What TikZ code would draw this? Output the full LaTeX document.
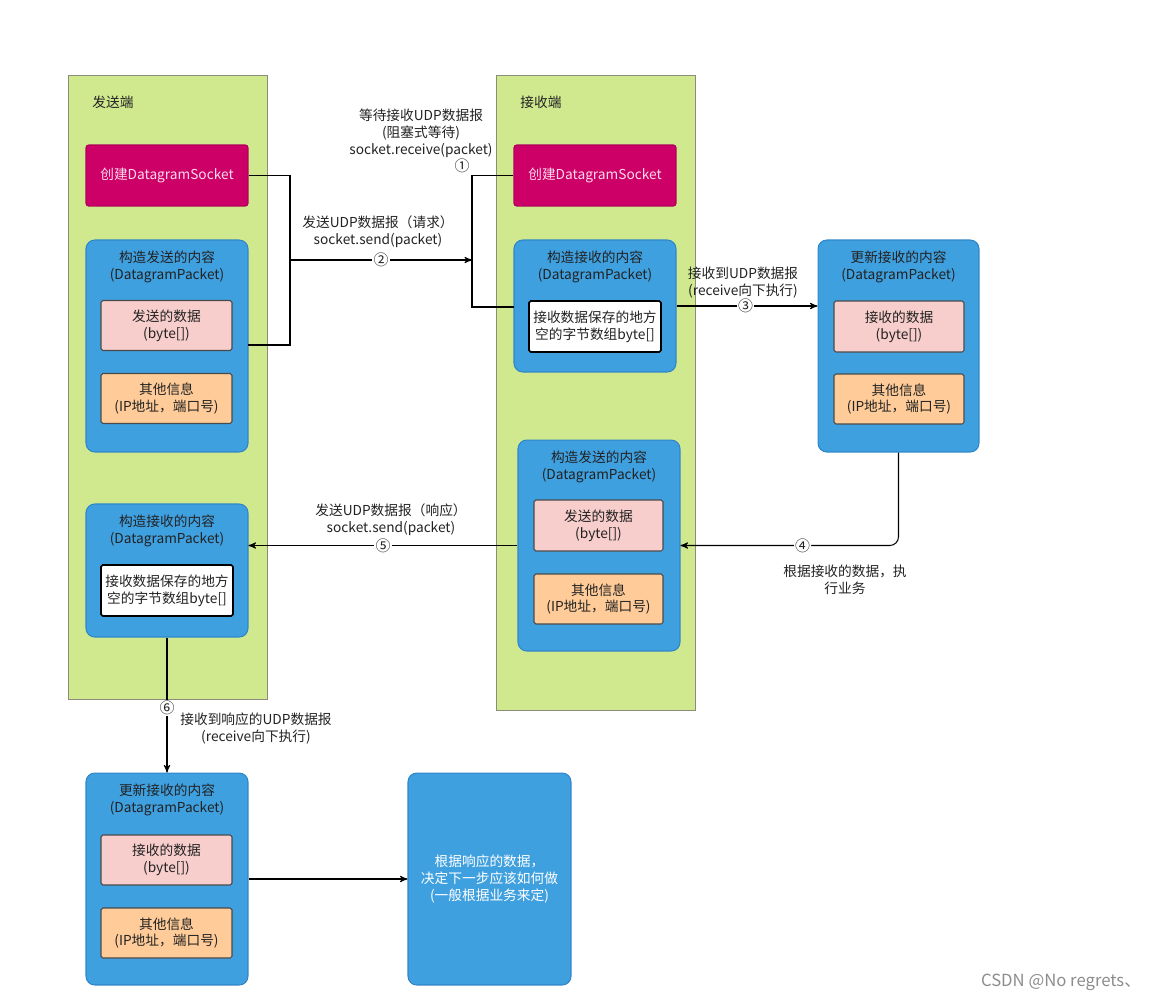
\documentclass[tikz,border=0pt]{standalone}
\usepackage{fontspec}
\setmainfont{Noto Sans CJK SC}
\usetikzlibrary{arrows,positioning}

\definecolor{lanefill}{HTML}{D0E98F}
\definecolor{lanedraw}{HTML}{8C8C7A}
\definecolor{sockfill}{HTML}{CC0066}
\definecolor{sockdraw}{HTML}{B0005A}
\definecolor{socktext}{HTML}{FFD9EC}
\definecolor{pktfill}{HTML}{3FA0E0}
\definecolor{pktdraw}{HTML}{2F86C8}
\definecolor{datafill}{HTML}{F8CECC}
\definecolor{infofill}{HTML}{FFCC99}
\definecolor{boxdraw}{HTML}{4A4A4A}
\definecolor{inktext}{HTML}{222222}

\begin{document}
\begin{tikzpicture}[x=0.02cm,y=-0.02cm,->,>=stealth',line width=0.6pt,
    font=\fontsize{7.8}{9.6}\selectfont,text=inktext,
    lane/.style={draw=lanedraw,fill=lanefill,line width=0.5pt,minimum width=3.98cm},
    sock/.style={draw=sockdraw,fill=sockfill,text=socktext,rounded corners=1.5pt,
      minimum width=3.24cm,minimum height=1.22cm},
    pkt/.style={draw=pktdraw,fill=pktfill,rounded corners=5pt,minimum width=3.24cm},
    data/.style={draw=boxdraw,fill=datafill,rounded corners=1pt,align=center,
      minimum width=2.62cm,minimum height=1cm},
    info/.style={data,fill=infofill},
    buffer/.style={draw=black,fill=white,line width=0.9pt,rounded corners=1pt,align=center,
      minimum width=2.64cm,minimum height=1.02cm,inner sep=1pt},
    title/.style={align=center},
    note/.style={align=center},
    num/.style={fill=white,inner sep=0.6pt,font=\fontsize{8.5}{9}\selectfont}]

      \useasboundingbox (0,0) rectangle (1152,1001);

      % the two sides
      \node[lane,minimum height=12.48cm] (sender) at (167.5,387) {};
      \node[lane,minimum height=12.7cm] (receiver) at (595.5,392.5) {};
      \node (sendertitle) at (113,102) {发送端};
      \node (receivertitle) at (541,102) {接收端};

      % sender, request
      \node[sock] (sendsocket) at (167,175.5) {创建DatagramSocket};
      \node[pkt,minimum height=4.24cm] (sendpacket) at (167,346) {};
      \node[title] (sendpackettitle) at (167,266.5) {构造发送的内容\\(DatagramPacket)};
      \node[data] (senddata) at (166.5,325.5) {发送的数据\\(byte[])};
      \node[info] (sendinfo) at (166.5,398.5) {其他信息\\(IP地址，端口号)};

      % receiver, request
      \node[sock] (recvsocket) at (595,175.5) {创建DatagramSocket};
      \node[pkt,minimum height=2.64cm] (recvpacket) at (595,306) {};
      \node[title] (recvpackettitle) at (595,266.5) {构造接收的内容\\(DatagramPacket)};
      \node[buffer] (recvbuffer) at (595,326.5) {接收数据保存的地方\\空的字节数组byte[]};

      \node[pkt,minimum width=3.22cm,minimum height=4.24cm] (updpacket) at (898.5,346) {};
      \node[title] (updpackettitle) at (898.5,266.5) {更新接收的内容\\(DatagramPacket)};
      \node[data,minimum width=2.6cm,minimum height=1.02cm] (upddata) at (899,326.5) {接收的数据\\(byte[])};
      \node[info,minimum width=2.6cm] (updinfo) at (899,399) {其他信息\\(IP地址，端口号)};

      % receiver, response
      \node[pkt,minimum height=4.22cm] (replypacket) at (599,545.5) {};
      \node[title] (replypackettitle) at (599,466.5) {构造发送的内容\\(DatagramPacket)};
      \node[data,minimum width=2.58cm,minimum height=1.02cm] (replydata) at (598.5,525.5) {发送的数据\\(byte[])};
      \node[info,minimum width=2.58cm] (replyinfo) at (598.5,599) {其他信息\\(IP地址，端口号)};

      % sender, response
      \node[pkt,minimum height=2.66cm] (backpacket) at (167,570.5) {};
      \node[title] (backpackettitle) at (167,530.5) {构造接收的内容\\(DatagramPacket)};
      \node[buffer] (backbuffer) at (167,590.5) {接收数据保存的地方\\空的字节数组byte[]};

      \node[pkt,minimum height=4.24cm] (finalpacket) at (167,879) {};
      \node[title] (finalpackettitle) at (167,799.5) {更新接收的内容\\(DatagramPacket)};
      \node[data] (finaldata) at (166.5,860) {接收的数据\\(byte[])};
      \node[info] (finalinfo) at (166.5,933) {其他信息\\(IP地址，端口号)};

      \node[pkt,minimum width=3.26cm,minimum height=4.24cm,text=white,align=center] (decide) at (489.5,879)
        {根据响应的数据，\\决定下一步应该如何做\\(一般根据业务来定)};

      % notes
      \node[note] (waitnote) at (421,133) {等待接收UDP数据报\\(阻塞式等待)\\socket.receive(packet)};
      \node[num] (num1) at (462,166) {①};
      \node[note] (requestnote) at (378,232) {发送UDP数据报（请求）\\socket.send(packet)};
      \node[note] (gotnote) at (743,283) {接收到UDP数据报\\(receive向下执行)};
      \node[note] (worknote) at (845,580) {根据接收的数据，执\\行业务};
      \node[note] (replynote) at (391,519.5) {发送UDP数据报（响应）\\socket.send(packet)};
      \node[note] (backnote) at (256,728.5) {接收到响应的UDP数据报\\(receive向下执行)};
      \node[text=black!45,font=\fontsize{9.5}{11}\selectfont] (mark) at (1061,982) {CSDN @No regrets、};

      \coordinate (sendjoin) at (290,260);
      \coordinate (sendtail) at (248,345);
      \coordinate (recvjoin) at (472,260);
      \coordinate (recvtail) at (514,307);

      \draw[-] (sendsocket.east) -| (sendjoin) |- (sendtail);
      \draw[-] (recvsocket.west) -| (recvjoin) |- (recvtail);
      \draw (sendjoin) -- node[num] (num2) {②} (recvjoin);
      \draw (recvpacket.east) -- node[num,pos=0.49] (num3) {③} (updpacket.west |- recvpacket.east);
      \draw[rounded corners=5pt] (updpacket.south) |- node[num,pos=0.72] (num4) {④} (replypacket.east);
      \draw (replypacket.west) -- node[num,pos=0.5] (num5) {⑤} (backpacket.east |- replypacket.west);
      \draw (backpacket.south) -- node[num,pos=0.52] (num6) {⑥} (finalpacket.north);
      \draw (finalpacket.east) -- (decide.west);

    \end{tikzpicture}
\end{document}
